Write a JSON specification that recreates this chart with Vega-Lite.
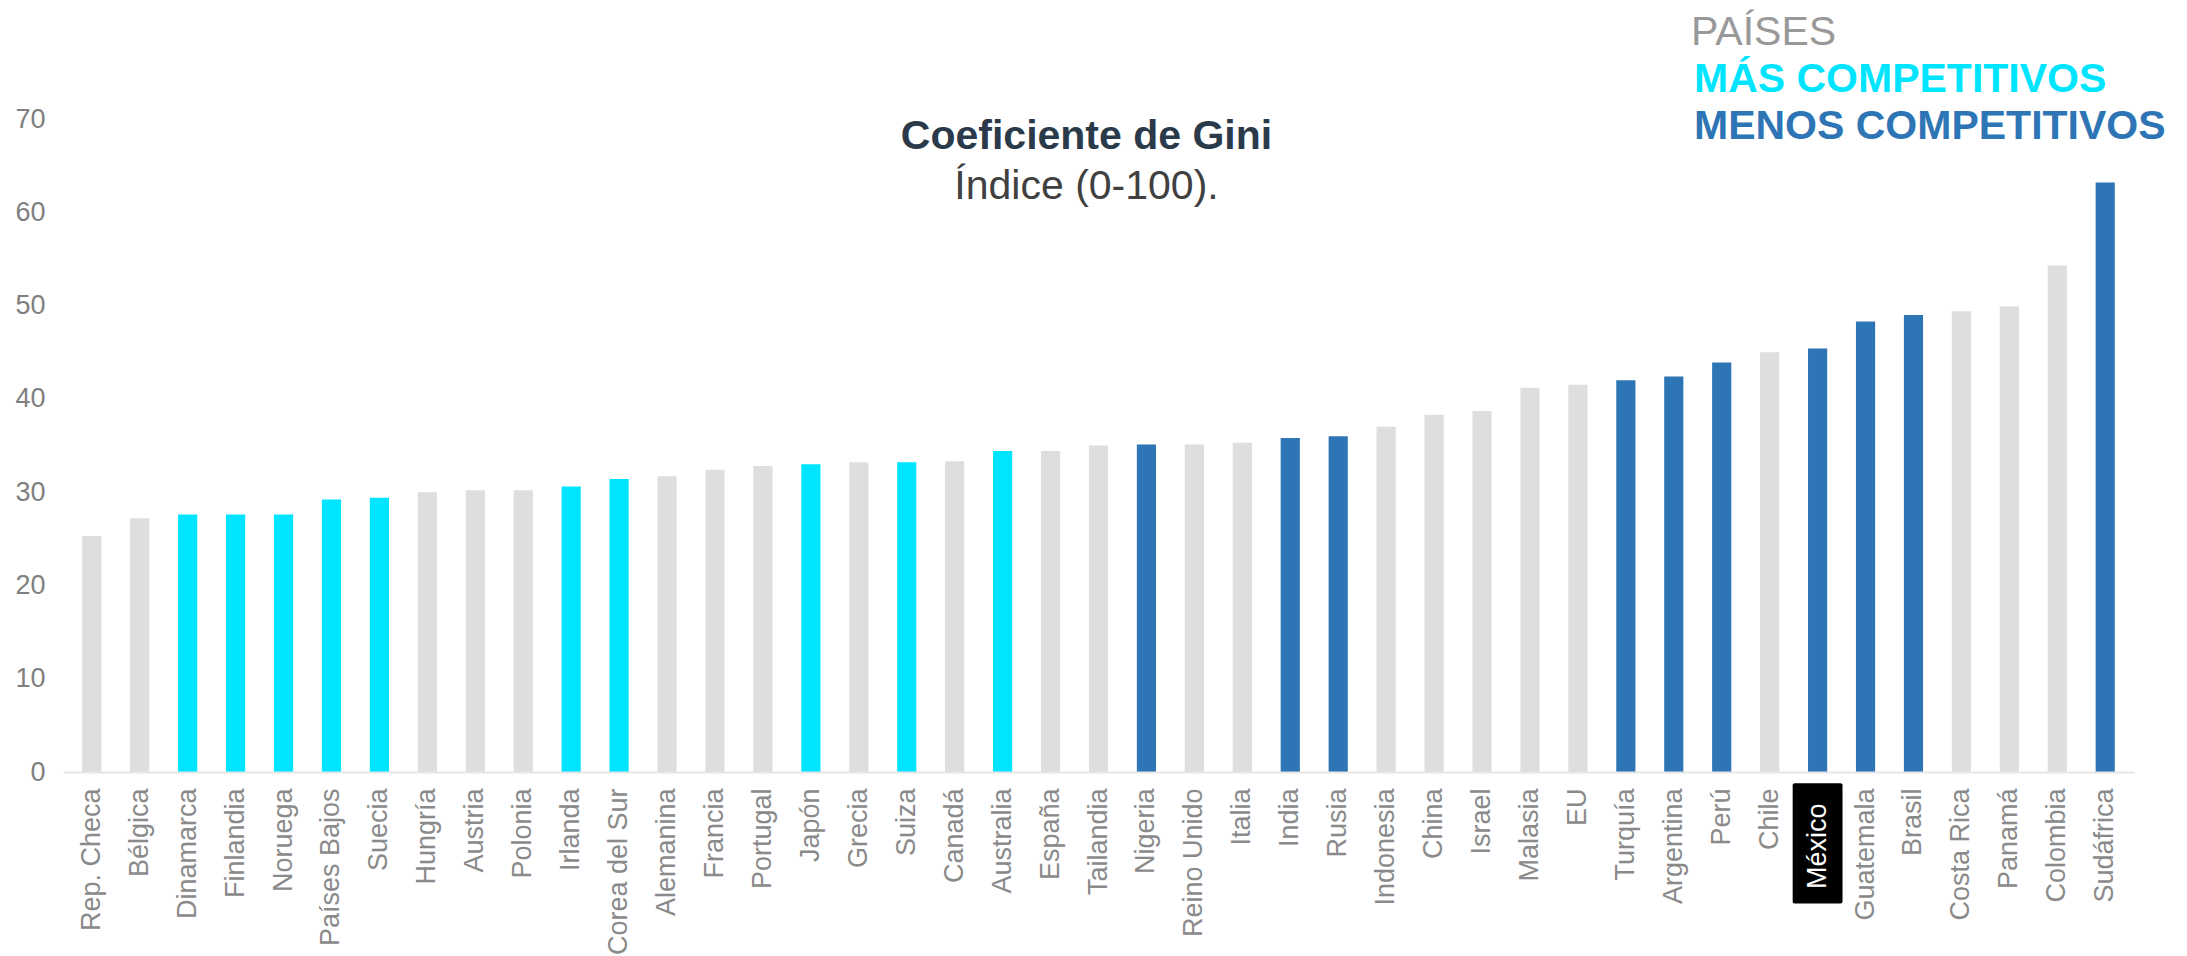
{
  "$schema": "https://vega.github.io/schema/vega-lite/v6.json",
  "width": 2071,
  "height": 653,
  "autosize": {"type": "none"},
  "padding": {"left": 63, "top": 119, "right": 53, "bottom": 184},
  "background": "white",
  "config": {"view": {"stroke": null}, "font": "Liberation Sans"},
  "title": {
    "text": "Coeficiente de Gini",
    "subtitle": "Índice (0-100).",
    "anchor": "middle",
    "frame": "group",
    "dx": -12,
    "offset": -195,
    "font": "Liberation Sans",
    "fontSize": 41,
    "fontWeight": "bold",
    "color": "#2B3A4A",
    "subtitleFont": "Liberation Sans",
    "subtitleFontSize": 41,
    "subtitleColor": "#404040",
    "subtitlePadding": 9
  },
  "data": {
    "values": [
      {"pais": "Rep. Checa", "gini": 25.3, "grupo": "OTROS"},
      {"pais": "Bélgica", "gini": 27.2, "grupo": "OTROS"},
      {"pais": "Dinamarca", "gini": 27.6, "grupo": "MÁS COMPETITIVOS"},
      {"pais": "Finlandia", "gini": 27.6, "grupo": "MÁS COMPETITIVOS"},
      {"pais": "Noruega", "gini": 27.6, "grupo": "MÁS COMPETITIVOS"},
      {"pais": "Países Bajos", "gini": 29.2, "grupo": "MÁS COMPETITIVOS"},
      {"pais": "Suecia", "gini": 29.4, "grupo": "MÁS COMPETITIVOS"},
      {"pais": "Hungría", "gini": 30.0, "grupo": "OTROS"},
      {"pais": "Austria", "gini": 30.2, "grupo": "OTROS"},
      {"pais": "Polonia", "gini": 30.2, "grupo": "OTROS"},
      {"pais": "Irlanda", "gini": 30.6, "grupo": "MÁS COMPETITIVOS"},
      {"pais": "Corea del Sur", "gini": 31.4, "grupo": "MÁS COMPETITIVOS"},
      {"pais": "Alemanina", "gini": 31.7, "grupo": "OTROS"},
      {"pais": "Francia", "gini": 32.4, "grupo": "OTROS"},
      {"pais": "Portugal", "gini": 32.8, "grupo": "OTROS"},
      {"pais": "Japón", "gini": 33.0, "grupo": "MÁS COMPETITIVOS"},
      {"pais": "Grecia", "gini": 33.2, "grupo": "OTROS"},
      {"pais": "Suiza", "gini": 33.2, "grupo": "MÁS COMPETITIVOS"},
      {"pais": "Canadá", "gini": 33.3, "grupo": "OTROS"},
      {"pais": "Australia", "gini": 34.4, "grupo": "MÁS COMPETITIVOS"},
      {"pais": "España", "gini": 34.4, "grupo": "OTROS"},
      {"pais": "Tailandia", "gini": 35.0, "grupo": "OTROS"},
      {"pais": "Nigeria", "gini": 35.1, "grupo": "MENOS COMPETITIVOS"},
      {"pais": "Reino Unido", "gini": 35.1, "grupo": "OTROS"},
      {"pais": "Italia", "gini": 35.3, "grupo": "OTROS"},
      {"pais": "India", "gini": 35.8, "grupo": "MENOS COMPETITIVOS"},
      {"pais": "Rusia", "gini": 36.0, "grupo": "MENOS COMPETITIVOS"},
      {"pais": "Indonesia", "gini": 37.0, "grupo": "OTROS"},
      {"pais": "China", "gini": 38.3, "grupo": "OTROS"},
      {"pais": "Israel", "gini": 38.7, "grupo": "OTROS"},
      {"pais": "Malasia", "gini": 41.2, "grupo": "OTROS"},
      {"pais": "EU", "gini": 41.5, "grupo": "OTROS"},
      {"pais": "Turquía", "gini": 42.0, "grupo": "MENOS COMPETITIVOS"},
      {"pais": "Argentina", "gini": 42.4, "grupo": "MENOS COMPETITIVOS"},
      {"pais": "Perú", "gini": 43.9, "grupo": "MENOS COMPETITIVOS"},
      {"pais": "Chile", "gini": 45.0, "grupo": "OTROS"},
      {"pais": "México", "gini": 45.4, "grupo": "MENOS COMPETITIVOS"},
      {"pais": "Guatemala", "gini": 48.3, "grupo": "MENOS COMPETITIVOS"},
      {"pais": "Brasil", "gini": 49.0, "grupo": "MENOS COMPETITIVOS"},
      {"pais": "Costa Rica", "gini": 49.4, "grupo": "OTROS"},
      {"pais": "Panamá", "gini": 49.9, "grupo": "OTROS"},
      {"pais": "Colombia", "gini": 54.3, "grupo": "OTROS"},
      {"pais": "Sudáfrica", "gini": 63.2, "grupo": "MENOS COMPETITIVOS"}
    ]
  },
  "layer": [
    {
      "mark": {"type": "bar"},
      "encoding": {
        "x": {
          "field": "pais",
          "type": "nominal",
          "sort": null,
          "scale": {"paddingInner": 0.6, "paddingOuter": 0.4},
          "axis": {
            "title": null,
            "labelAngle": 270,
            "labelFontSize": 27,
            "labelColor": {"condition": {"test": "datum.value === 'México'", "value": "#FFFFFF"}, "value": "#8A8A8A"},
            "labelPadding": {"condition": {"test": "datum.value === 'México'", "value": 31}, "value": 16},
            "labelLimit": 0,
            "labelOverlap": false,
            "ticks": false,
            "tickSize": 0,
            "domainColor": "#E6E6E6",
            "domainWidth": 2,
            "zindex": 1
          }
        },
        "y": {
          "field": "gini",
          "type": "quantitative",
          "scale": {"domain": [0, 70], "nice": false},
          "axis": {
            "title": null,
            "values": [0, 10, 20, 30, 40, 50, 60, 70],
            "domain": false,
            "ticks": false,
            "tickSize": 0,
            "grid": false,
            "labelFontSize": 27,
            "labelColor": "#808080",
            "labelPadding": 18
          }
        },
        "color": {
          "field": "grupo",
          "type": "nominal",
          "scale": {
            "domain": ["OTROS", "MÁS COMPETITIVOS", "MENOS COMPETITIVOS"],
            "range": ["#DEDEDE", "#00E5FF", "#2E75B6"]
          },
          "legend": {
            "orient": "none",
            "legendX": 1628,
            "legendY": -106,
            "values": ["MÁS COMPETITIVOS", "MENOS COMPETITIVOS"],
            "title": "PAÍSES",
            "titleFont": "Liberation Sans",
            "titleFontSize": 41,
            "titleFontWeight": "normal",
            "titleColor": "#999999",
            "titlePadding": 5,
            "labelFont": "Liberation Sans",
            "labelFontSize": 41,
            "labelFontWeight": "bold",
            "labelColor": {"expr": "datum.value === 'MÁS COMPETITIVOS' ? '#00E5FF' : '#2E75B6'"},
            "labelOffset": -38,
            "labelLimit": 0,
            "symbolSize": 0,
            "symbolStrokeWidth": 0,
            "symbolOpacity": 0,
            "rowPadding": 5,
            "padding": 0
          }
        }
      }
    },
    {
      "mark": {"type": "bar", "color": "#000000", "width": {"band": 2.6}, "cornerRadius": 2},
      "encoding": {
        "x": {"field": "pais", "type": "nominal", "sort": null},
        "y": {"datum": -1.2},
        "y2": {"datum": -14.1},
        "opacity": {"condition": {"test": "datum.pais === 'México'", "value": 1}, "value": 0}
      }
    }
  ]
}
